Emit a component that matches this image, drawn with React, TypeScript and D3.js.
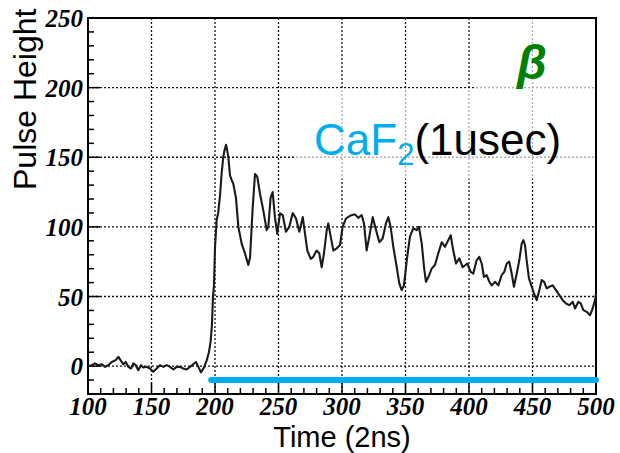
import React from "react";
import * as d3 from "d3";

const timeVals = [
  100, 102.9, 105.5, 108.1, 110.8, 113.4, 116, 118.7, 121.8, 123.9, 126, 127.8, 129.7, 131.7, 133.9, 135.7,
  137.6, 139.6, 141.7, 143.5, 146.2, 148.8, 151.4, 154.1, 156.7, 159.3, 162, 164.6, 167.2, 169.8, 172.4, 175,
  177.7, 180.3, 182.9, 185, 186.9, 189, 191.6, 193.6, 195.2, 196.6, 197.6, 198.4, 199.2, 200, 201.3, 202.5,
  203.9, 205.2, 206.5, 207.5, 208.7, 209.6, 210.5, 211.8, 213, 214.4, 216.5, 218.4, 221, 223.6, 226.2, 227.6,
  229.7, 231.5, 233.3, 235.4, 238, 240.7, 242, 243.8, 245.4, 247.2, 249, 251.2, 253.3, 255.9, 258.5, 261.2,
  263.8, 266.4, 269.1, 270.9, 272.7, 275.4, 277.4, 280, 282.1, 284, 285.8, 288, 289.2, 291.1, 293.2, 295.8,
  298.4, 300.5, 303.1, 306.3, 310.2, 312.8, 315.5, 317.3, 319.4, 321.5, 324.2, 326.8, 329.4, 332, 334.6, 336.5,
  338.3, 340.4, 343.1, 345.1, 347, 348.8, 351, 353.5, 356.1, 358.8, 360.6, 362.8, 364.6, 366.1, 368, 370.6,
  373.2, 375.8, 378.5, 381.1, 383.7, 385.6, 387.6, 389.8, 392.4, 395, 398.7, 401.3, 403.4, 406, 408.1, 410,
  411.8, 413.9, 416, 417.9, 420.5, 423.1, 425.7, 427.8, 429.7, 431.7, 433.6, 435.4, 437.6, 439.6, 441.5, 442.8,
  444.1, 445.4, 447.2, 449.4, 451.2, 453.3, 455.4, 457.3, 459.1, 461.2, 463.2, 465.9, 468.5, 471.1, 473.8, 476.4,
  479, 481.7, 483.5, 486.1, 488, 490, 492.7, 495.3, 497.4, 499.2, 500,
];

const pulseVals = [
  0, 0.7, 2, 0.7, 1.4, -0.5, 0.7, 3, 4.3, 6.7, 3.8, 1.4, 3, -0.5, -1.7, 2,
  0.7, -2.9, 0.7, -1, -0.5, -1.7, -4.1, -1.7, 0.7, -0.5, 0.7, -0.5, -2.4, -0.5, -0.5, -1.7,
  -2.4, -0.5, 1.4, 3, -0.5, -4.5, -0.5, 4.5, 10, 18, 30, 50, 58, 85, 105, 110,
  122, 138, 150, 155, 159, 155, 150, 137, 134, 131, 121, 100, 88, 81, 72.6, 78,
  114, 138, 136, 124, 112, 97.7, 100, 121, 125, 107, 95, 109.7, 108.5, 96.5, 100, 110,
  106, 96.5, 107, 95, 83, 77, 78.5, 83, 81, 71, 81, 97.7, 102.5, 93, 83, 84.5,
  87, 100, 106, 108, 109, 106.5, 108.5, 102.5, 83, 93, 107, 97.7, 89, 91.7, 102.5, 107,
  100, 85.7, 71, 59.4, 54.6, 58, 76, 93, 99, 97.7, 100, 88, 71, 60.6, 64, 70,
  72.6, 81, 89, 85.7, 90.5, 94, 83, 73.7, 77.4, 71, 73.7, 67.7, 66.5, 76, 78.5, 73.7,
  64, 65.4, 60.6, 58, 60.6, 58, 65.4, 67.7, 73.7, 75, 66.5, 57, 66.5, 76, 88, 90.5,
  87, 76, 63, 57, 52, 47.4, 54.6, 61.8, 60.6, 55.8, 57, 58, 54.6, 51, 47.4, 45,
  43.8, 46.2, 41.4, 46.2, 45, 40.2, 39, 36.6, 41.4, 47.4, 52,
];

const xTicks = [100, 150, 200, 250, 300, 350, 400, 450, 500];
const yTicks = [0, 50, 100, 150, 200, 250];
const xDomain = [100, 500];
const yDomain = [-20, 250];
const windowStart = 197;
const windowEnd = 500;
const windowLevel = -10;

const W = 620;
const H = 453;
const L = 88, R = 596, T = 18, B = 394;

export default function App() {
  const x = d3.scaleLinear().domain(xDomain).range([L, R]);
  const y = d3.scaleLinear().domain(yDomain).range([B, T]);
  const pts: [number, number][] = timeVals.map((t, i) => [t, pulseVals[i]]);
  const line = d3
    .line<[number, number]>()
    .x((d) => x(d[0]))
    .y((d) => y(d[1]))
    .curve(d3.curveLinear);

  const xMinor = d3.range(100, 501, 10);
  const yMinor = d3.range(-20, 251, 10);
  const tickFont = "'Liberation Serif', 'Times New Roman', serif";
  const sans = "'Liberation Sans', Arial, Helvetica, sans-serif";

  return (
    <svg
      width={W}
      height={H}
      style={{ position: "absolute", left: 0, top: 0, background: "#fff" }}
    >
      <rect x={0} y={0} width={W} height={H} fill="#fff" />
      {/* grid */}
      {xTicks.slice(1, -1).map((t) => (
        <line key={"gx" + t} x1={x(t)} x2={x(t)} y1={T} y2={B} stroke="#111" strokeWidth={1.3} strokeDasharray="2,2" />
      ))}
      {yTicks.slice(0, -1).map((t) => (
        <line key={"gy" + t} x1={L} x2={R} y1={y(t)} y2={y(t)} stroke="#111" strokeWidth={1.3} strokeDasharray="2,2" />
      ))}
      {/* translucent label backgrounds */}
      <rect x={x(405)} y={T + 1} width={R - x(405) - 1} height={y(200) - T} fill="#fff" opacity={0.65} />
      <rect x={x(263)} y={y(200) + 1} width={R - x(263) - 1} height={y(135) - y(200)} fill="#fff" opacity={0.65} />
      {/* minor & major ticks */}
      {xMinor.map((t) => (
        <line key={"tx" + t} x1={x(t)} x2={x(t)} y1={B} y2={B - (t % 50 === 0 ? 11 : 6)} stroke="#000" strokeWidth={1.5} />
      ))}
      {yMinor.map((t) => (
        <line key={"ty" + t} x1={L} x2={L + (t % 50 === 0 ? 12 : 6)} y1={y(t)} y2={y(t)} stroke="#000" strokeWidth={1.5} />
      ))}
      {/* frame */}
      <rect x={L} y={T} width={R - L} height={B - T} fill="none" stroke="#000" strokeWidth={2} />
      {/* window bar */}
      <line
        x1={x(windowStart)}
        x2={x(windowEnd)}
        y1={y(windowLevel)}
        y2={y(windowLevel)}
        stroke="#00AEEF"
        strokeWidth={6}
        strokeLinecap="round"
      />
      {/* waveform */}
      <path d={line(pts) || ""} fill="none" stroke="#1a1a1a" strokeWidth={2.1} strokeLinejoin="round" />
      {/* tick labels */}
      {xTicks.map((t) => (
        <text key={"lx" + t} x={x(t)} y={415} textAnchor="middle" fontFamily={tickFont} fontStyle="italic" fontWeight="bold" fontSize={25}>
          {t}
        </text>
      ))}
      {yTicks.map((t) => (
        <text key={"ly" + t} x={83} y={y(t) + 9} textAnchor="end" fontFamily={tickFont} fontStyle="italic" fontWeight="bold" fontSize={25}>
          {t}
        </text>
      ))}
      {/* axis titles */}
      <text x={(L + R) / 2} y={447} textAnchor="middle" fontFamily={sans} fontSize={29}>
        Time (2ns)
      </text>
      <text transform="translate(36,190) rotate(-90)" textAnchor="start" fontFamily={sans} fontSize={32}>
        Pulse Height
      </text>
      {/* annotations */}
      <text x={517} y={79} fontFamily={sans} fontStyle="italic" fontWeight="bold" fontSize={48} fill="#008000">
        β
      </text>
      <text x={314} y={155} fontFamily={sans} fontSize={44}>
        <tspan fill="#00AEEF">CaF</tspan>
        <tspan fill="#00AEEF" fontSize={31} dy={10}>2</tspan>
        <tspan fill="#000" dy={-10}>(1usec)</tspan>
      </text>
    </svg>
  );
}
